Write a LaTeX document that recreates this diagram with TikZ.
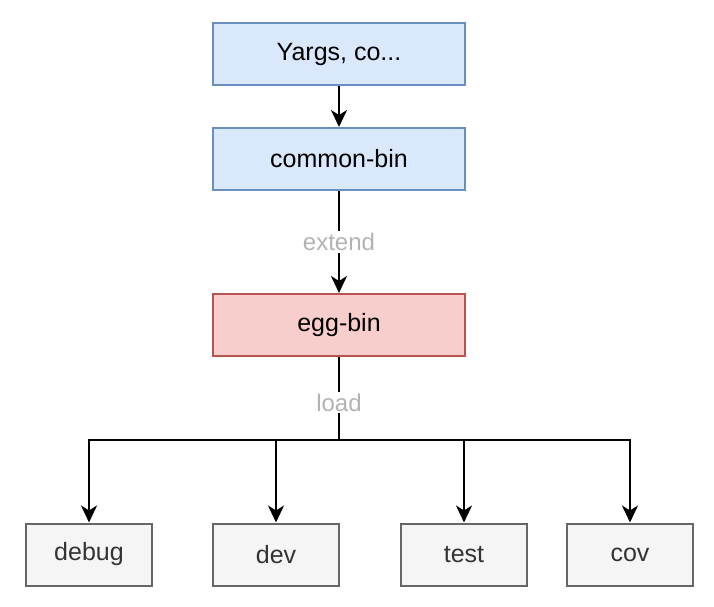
\documentclass[tikz,border=0pt]{standalone}
\usepackage{fontspec}
\setmainfont{Liberation Sans}
\usetikzlibrary{arrows.meta}
\definecolor{bluefill}{HTML}{DAE8FC}
\definecolor{bluedraw}{HTML}{6C8EBF}
\definecolor{redfill}{HTML}{F8CECC}
\definecolor{reddraw}{HTML}{B85450}
\definecolor{greyfill}{HTML}{F5F5F5}
\definecolor{greydraw}{HTML}{666666}
\definecolor{greytext}{HTML}{333333}
\definecolor{labeltext}{HTML}{B3B3B3}
\tikzset{
  box/.style={draw, line width=2pt, minimum height=62pt, inner sep=0pt,
    font=\fontsize{25}{28}\selectfont},
  bluebox/.style={box, fill=bluefill, draw=bluedraw, minimum width=252pt},
  redbox/.style={box, fill=redfill, draw=reddraw, minimum width=252pt},
  greybox/.style={box, fill=greyfill, draw=greydraw, text=greytext, minimum width=126pt},
  arr/.style={line width=2.2pt, -{Stealth[length=17pt,width=16pt,inset=5pt]}},
  conn/.style={line width=2.2pt},
  lbl/.style={fill=white, text=labeltext, inner sep=2pt, font=\fontsize{24}{28}\selectfont}
}
\begin{document}
\begin{tikzpicture}[x=1pt,y=-1pt]
\useasboundingbox (0,0) rectangle (714,606);
\node[bluebox] (yargs) at (339,54) {Yargs, co...};
\node[bluebox] (common) at (339,159) {common-bin};
\node[redbox] (egg) at (339,325) {egg-bin};
\node[greybox] (debug) at (89,554.5) {debug};
\node[greybox] (dev) at (276,554.5) {dev};
\node[greybox] (test) at (464,554.5) {test};
\node[greybox] (cov) at (630,554.5) {cov};
\coordinate (split) at (339,440);
\draw[arr] (yargs) -- (common);
\draw[arr] (common) -- node[lbl, pos=0.5] {extend} (egg);
\draw[conn] (egg) -- node[lbl, pos=0.55] {load} (split);
\draw[arr] (split) -| (debug);
\draw[arr] (split) -| (dev);
\draw[arr] (split) -| (test);
\draw[arr] (split) -| (cov);
\end{tikzpicture}
\end{document}
